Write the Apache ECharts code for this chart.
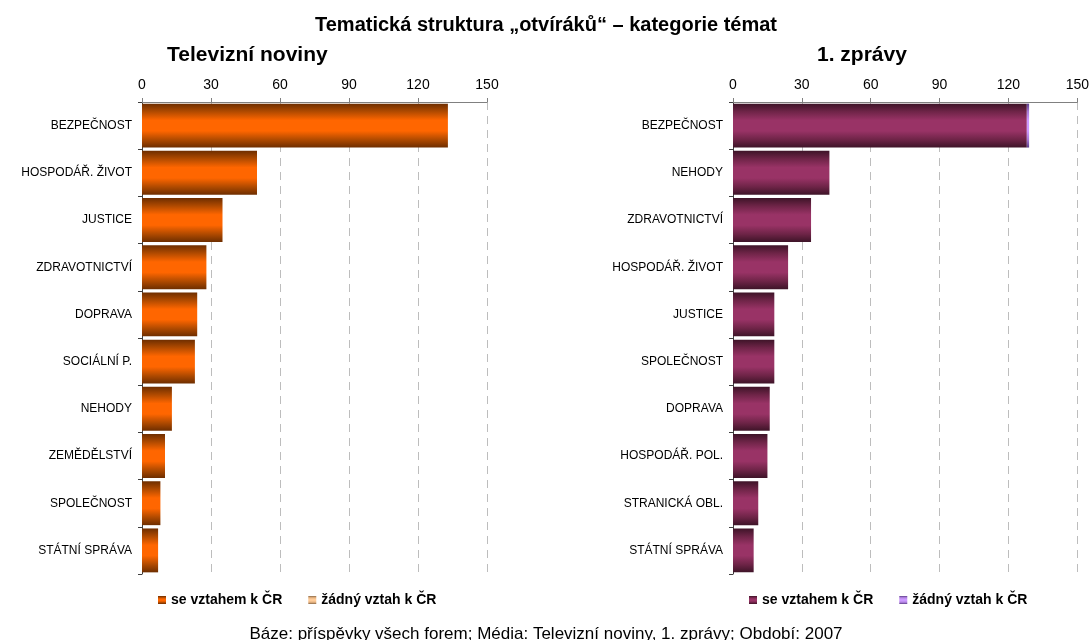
<!DOCTYPE html>
<html>
<head>
<meta charset="utf-8">
<script src="https://cdn.jsdelivr.net/npm/echarts@6/dist/echarts.min.js"></script>
<style>
  html, body { margin: 0; padding: 0; background: #fff; }
  #chart { width: 1092px; height: 640px; }
</style>
</head>
<body>
<div id="chart"></div>
<script>
const tnCategories = ['BEZPEČNOST', 'HOSPODÁŘ. ŽIVOT', 'JUSTICE', 'ZDRAVOTNICTVÍ', 'DOPRAVA',
  'SOCIÁLNÍ P.', 'NEHODY', 'ZEMĚDĚLSTVÍ', 'SPOLEČNOST', 'STÁTNÍ SPRÁVA']
const tnWith = [133, 50, 35, 28, 24, 23, 13, 10, 8, 7]
const tnWithout = [0, 0, 0, 0, 0, 0, 0, 0, 0, 0]

const zpCategories = ['BEZPEČNOST', 'NEHODY', 'ZDRAVOTNICTVÍ', 'HOSPODÁŘ. ŽIVOT', 'JUSTICE',
  'SPOLEČNOST', 'DOPRAVA', 'HOSPODÁŘ. POL.', 'STRANICKÁ OBL.', 'STÁTNÍ SPRÁVA']
const zpWith = [128, 42, 34, 24, 18, 18, 16, 15, 11, 9]
const zpWithout = [1, 0, 0, 0, 0, 0, 0, 0, 0, 0]

const xTicks = [0, 30, 60, 90, 120, 150]
const seriesNames = ['se vztahem k ČR', 'žádný vztah k ČR']

const font = 'Liberation Sans, Arial, sans-serif'

function stripe(edge, mid, center) {
  return {
    type: 'linear', x: 0, y: 0, x2: 0, y2: 1,
    colorStops: [
      { offset: 0, color: edge },
      { offset: 0.18, color: mid },
      { offset: 0.38, color: center },
      { offset: 0.62, color: center },
      { offset: 0.82, color: mid },
      { offset: 1, color: edge },
    ],
  }
}

const orange = stripe('#6e2e00', '#b04a00', '#ff6600')
const tan = stripe('#8a6a4a', '#d9a878', '#ffcc99')
const plum = stripe('#3e1428', '#6e2447', '#993366')
const lilac = stripe('#5e3e8a', '#a77ad6', '#cc99ff')

function xAxis(gridIndex) {
  return {
    type: 'value', gridIndex, position: 'top',
    min: xTicks[0], max: xTicks[xTicks.length - 1], interval: 30,
    axisLine: { show: true, lineStyle: { color: '#808080', width: 1 } },
    axisTick: { show: true, inside: false, length: 4, lineStyle: { color: '#808080' } },
    axisLabel: { margin: 10, color: '#000', fontFamily: font, fontSize: 14 },
    splitLine: { show: true, lineStyle: { color: '#bdbdbd', type: [8, 6], width: 1 } },
  }
}

function yAxis(gridIndex, data) {
  return {
    type: 'category', gridIndex, data, inverse: true,
    axisLine: { show: true, lineStyle: { color: '#404040', width: 1 } },
    axisTick: { show: true, length: 4, lineStyle: { color: '#404040' } },
    axisLabel: { margin: 10, color: '#000', fontFamily: font, fontSize: 12 },
  }
}

function bars(name, idx, data, color) {
  return {
    name, type: 'bar', stack: 's' + idx, xAxisIndex: idx, yAxisIndex: idx,
    data, barCategoryGap: '7%',
    itemStyle: { color },
    emphasis: { disabled: true },
  }
}

const legendCommon = {
  icon: 'rect', itemWidth: 8, itemHeight: 8, itemGap: 26,
  formatter: (n) => n.trim(),
  textStyle: { fontFamily: font, fontSize: 14, fontWeight: 'bold', color: '#000' },
  selectedMode: false,
}

const chart = echarts.init(document.getElementById('chart'))
chart.setOption({
  animation: false,
  title: [
    { text: 'Tematická struktura „otvíráků“ – kategorie témat', left: 'center', top: 10,
      textStyle: { fontFamily: font, fontSize: 20, fontWeight: 'bold', color: '#000' } },
    { text: 'Televizní noviny', left: 162, top: 40,
      textStyle: { fontFamily: font, fontSize: 21, fontWeight: 'bold', color: '#000' } },
    { text: '1. zprávy', left: 812, top: 40,
      textStyle: { fontFamily: font, fontSize: 21, fontWeight: 'bold', color: '#000' } },
    { text: 'Báze: příspěvky všech forem; Média: Televizní noviny, 1. zprávy; Období: 2007',
      left: 'center', top: 621,
      textStyle: { fontFamily: font, fontSize: 17, fontWeight: 'normal', color: '#000' } },
  ],
  legend: [
    Object.assign({ data: seriesNames, left: 153, top: 588 }, legendCommon),
    Object.assign({ data: seriesNames.map((n) => n + ' '), left: 744, top: 588 }, legendCommon),
  ],
  grid: [
    { left: 142, top: 102, width: 345, height: 472 },
    { left: 733, top: 102, width: 345, height: 472 },
  ],
  xAxis: [xAxis(0), xAxis(1)],
  yAxis: [yAxis(0, tnCategories), yAxis(1, zpCategories)],
  series: [
    bars(seriesNames[0], 0, tnWith, orange),
    bars(seriesNames[1], 0, tnWithout, tan),
    bars(seriesNames[0] + ' ', 1, zpWith, plum),
    bars(seriesNames[1] + ' ', 1, zpWithout, lilac),
  ],
})
</script>
</body>
</html>
